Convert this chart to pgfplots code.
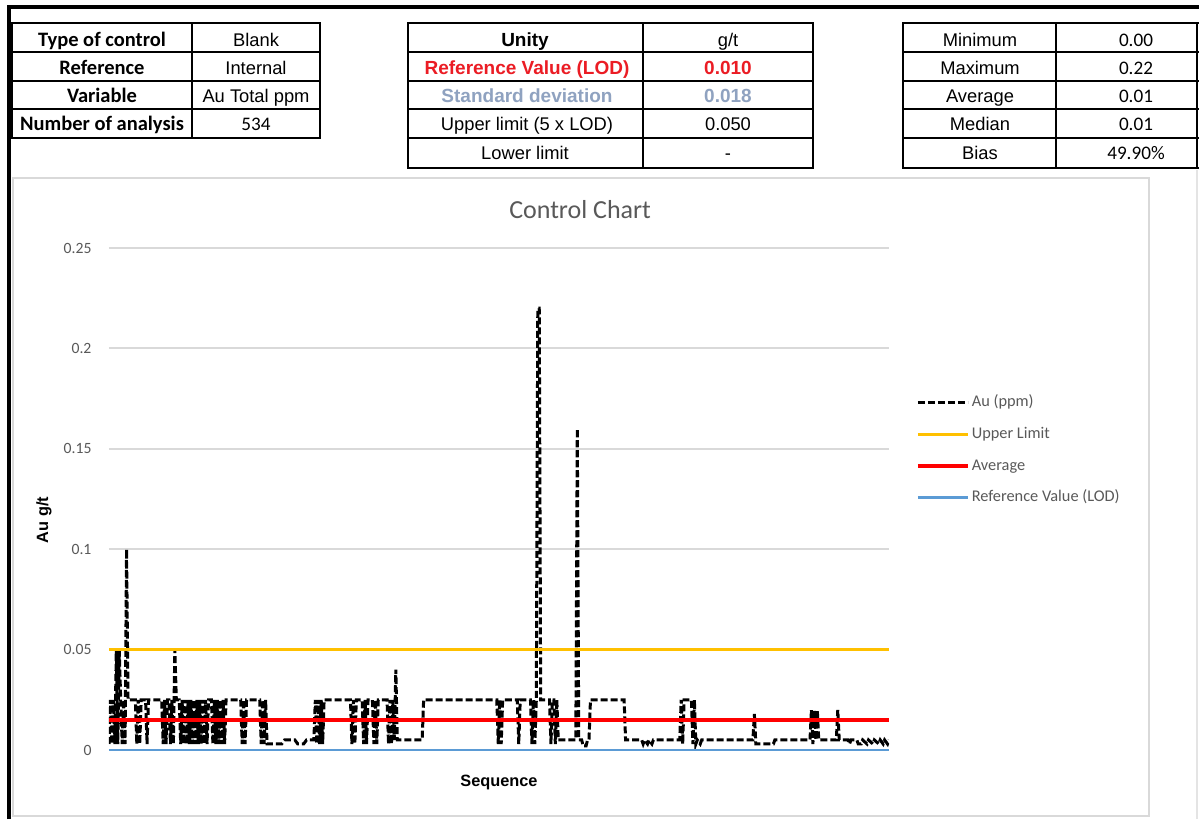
\documentclass[border=0pt]{standalone}
\usepackage{pgfplots}
\pgfplotsset{compat=1.18}
\usepackage{fontspec}
\setmainfont{Carlito}
\newfontfamily\arial{Liberation Sans}

\definecolor{xlgray}{RGB}{89,89,89}
\definecolor{gridgray}{RGB}{217,217,217}
\definecolor{xlyellow}{RGB}{255,192,0}
\definecolor{xlred}{RGB}{255,0,0}
\definecolor{xlblue}{RGB}{91,155,213}
\definecolor{lodred}{RGB}{235,28,36}
\definecolor{sdblue}{RGB}{143,162,192}

% fonts, sizes in pt (1 px of the reference = 0.6pt)
\newcommand{\fa}{\fontsize{11}{13}\selectfont\arial}
\newcommand{\fab}{\fontsize{11.4}{13}\selectfont\arial\bfseries}
\newcommand{\fcb}{\fontsize{12.3}{14}\selectfont\bfseries}
\newcommand{\fc}{\fontsize{11.5}{13}\selectfont}

\begin{document}
\begin{tikzpicture}[x=0.6pt,y=-0.6pt]
\useasboundingbox (0,0) rectangle (1199,819);
\fill[white] (0,0) rectangle (1199,819);

% sheet frame and chart area
\draw[line width=2.4pt] (9,819) -- (9,7) -- (1199,7);
\draw[gridgray, line width=1pt] (13,178) rectangle (1149,816);
\draw[gridgray!70, line width=1pt] (1197,170) -- (1197,819);

% ---- table 1
\draw[line width=1pt] (12,52) -- (320,52) (12,81) -- (320,81) (12,109) -- (320,109) (192,23) -- (192,138);
\draw[line width=1.7pt] (12,23) rectangle (320,138);
\node[anchor=base, font=\fcb] at (102,46) {Type of control};
\node[anchor=base, font=\fcb] at (102,74) {Reference};
\node[anchor=base, font=\fcb] at (102,102) {Variable};
\node[anchor=base, font=\fcb] at (102,130) {Number of analysis};
\node[anchor=base, font=\fa] at (256,46) {Blank};
\node[anchor=base, font=\fa] at (256,74) {Internal};
\node[anchor=base, font=\fa] at (256,102) {Au Total ppm};
\node[anchor=base, font=\fc] at (256,130) {534};

% ---- table 2
\draw[line width=1pt] (408,52) -- (813,52) (408,81) -- (813,81) (408,109) -- (813,109) (408,138) -- (813,138) (643,23) -- (643,168);
\draw[line width=1.7pt] (408,23) rectangle (813,168);
\node[anchor=base, font=\fab] at (525,46) {Unity};
\node[anchor=base, font=\fab, text=lodred] at (527,74) {Reference Value (LOD)};
\node[anchor=base, font=\fab, text=sdblue] at (527,102) {Standard deviation};
\node[anchor=base, font=\fa] at (527,130) {Upper limit (5 x LOD)};
\node[anchor=base, font=\fa] at (525,159) {Lower limit};
\node[anchor=base, font=\fa] at (728,46) {g/t};
\node[anchor=base, font=\fab, text=lodred] at (728,74) {0.010};
\node[anchor=base, font=\fab, text=sdblue] at (728,102) {0.018};
\node[anchor=base, font=\fa] at (728,130) {0.050};
\node[anchor=base, font=\fa] at (728,159) {-};

% ---- table 3 (runs on past the right edge)
\draw[line width=1pt] (903,52) -- (1199,52) (903,81) -- (1199,81) (903,109) -- (1199,109) (903,138) -- (1199,138) (1056,23) -- (1056,168);
\draw[line width=1.7pt] (1199,23) -- (903,23) -- (903,168) -- (1199,168);
\draw[line width=1.2pt] (1197,23) -- (1197,168);
\node[anchor=base, font=\fa] at (980,46) {Minimum};
\node[anchor=base, font=\fa] at (980,74) {Maximum};
\node[anchor=base, font=\fa] at (980,102) {Average};
\node[anchor=base, font=\fa] at (980,130) {Median};
\node[anchor=base, font=\fa] at (980,159) {Bias};
\node[anchor=base, font=\fc] at (1136,46) {0.00};
\node[anchor=base, font=\fc] at (1136,74) {0.22};
\node[anchor=base, font=\fc] at (1136,102) {0.01};
\node[anchor=base, font=\fc] at (1136,130) {0.01};
\node[anchor=base, font=\fc] at (1136,159) {49.90\%};

% ---- control chart (axis box: x 109..889 px, y 248..750 px)
\begin{axis}[
    at={(65.4pt,-450pt)}, anchor=south west,
    scale only axis,
    width=468pt, height=301.2pt,
    xmin=0, xmax=533, ymin=0, ymax=0.25,
    axis line style={draw=none},
    major tick length=0pt,
    xtick=\empty,
    ytick={0,0.05,0.1,0.15,0.2,0.25},
    yticklabels={0,0.05,0.1,0.15,0.2,0.25},
    yticklabel style={font=\fontsize{9.4}{11}\selectfont, text=xlgray, xshift=-7pt},
    ymajorgrids,
    grid style={gridgray, line width=1.1pt},
    title={Control Chart},
    title style={at={(axis description cs:0.604,1.056)}, anchor=center,
        font=\fontsize{15.6}{18}\selectfont, text=xlgray},
    xlabel={Sequence},
    xlabel style={at={(axis description cs:0.5,0)}, anchor=center, yshift=-19.5pt,
        font=\fontsize{9.8}{11}\selectfont\arial\bfseries},
    ylabel={Au g/t},
    ylabel style={at={(axis description cs:-0.0833,0.458)}, anchor=center,
        font=\fontsize{9.8}{11}\selectfont\arial\bfseries},
    legend style={at={(1,0.597)}, anchor=west, xshift=16pt,
        draw=none, fill=none, inner sep=0pt, row sep=8.6pt, column sep=0.6pt,
        font=\fontsize{9.8}{11}\selectfont, text=xlgray,
        nodes={inner sep=0.6pt, text height=7pt, text depth=2.2pt}},
    legend cell align=left,
    legend image code/.code={\draw[#1] (0pt,0pt) -- (30pt,0pt);},
]

% Au (ppm)
\addplot[black, line width=1.8pt, dash pattern=on 4.2pt off 1.8pt, sharp plot] coordinates {
(0,0.003)(1,0.025)(2,0.003)(3,0.025)(4,0.003)(5,0.05)(6,0.003)(7,0.05)(8,0.025)(9,0.003)
(10,0.025)(11,0.003)(12,0.1)(13,0.025)(18,0.025)(19,0.003)(20,0.025)(21,0.003)(22,0.025)
(25,0.025)(26,0.003)(27,0.025)(36,0.025)(37,0.003)(38,0.025)(39,0.003)(40,0.025)(41,0.025)
(42,0.003)(43,0.025)(44,0.003)(45,0.05)(46,0.025)(48,0.025)(49,0.003)(50,0.025)(51,0.003)
(52,0.025)(53,0.003)(54,0.025)(55,0.003)(56,0.025)(57,0.003)(58,0.025)(59,0.003)(60,0.025)
(61,0.003)(62,0.025)(63,0.003)(64,0.025)(65,0.003)(66,0.025)(67,0.003)(68,0.025)(70,0.025)
(71,0.003)(72,0.025)(73,0.003)(74,0.025)(75,0.003)(76,0.025)(77,0.003)(78,0.025)(79,0.003)
(80,0.025)(90,0.025)(91,0.003)(92,0.025)(93,0.003)(94,0.025)(103,0.025)(104,0.003)(105,0.025)
(106,0.003)(107,0.025)(108,0.003)(118,0.003)(120,0.005)(127,0.005)(129,0.003)(133,0.003)
(135,0.005)(140,0.005)(141,0.025)(142,0.003)(143,0.025)(144,0.003)(145,0.025)(146,0.003)
(147,0.025)(165,0.025)(166,0.003)(167,0.025)(168,0.003)(169,0.025)(173,0.025)(174,0.003)
(175,0.025)(176,0.003)(177,0.025)(180,0.025)(181,0.003)(182,0.025)(183,0.003)(184,0.025)
(190,0.025)(191,0.003)(192,0.025)(193,0.003)(194,0.025)(195,0.005)(196,0.04)(197,0.005)
(214,0.005)(215,0.025)(265,0.025)(266,0.003)(267,0.025)(268,0.003)(269,0.025)(279,0.025)
(280,0.003)(281,0.025)(288,0.025)(289,0.003)(290,0.025)(291,0.003)(292,0.025)(293,0.22)
(294,0.22)(295,0.025)(301,0.025)(302,0.003)(303,0.025)(304,0.025)(305,0.003)(306,0.025)
(307,0.005)(319,0.005)(320,0.16)(321,0.005)(323,0.005)(324,0.002)(326,0.002)(327,0.005)
(328,0.005)(329,0.025)(352,0.025)(353,0.005)(364,0.005)(365,0.003)(366,0.005)(368,0.003)
(369,0.005)(371,0.003)(372,0.005)(390,0.005)(391,0.025)(392,0.003)(393,0.025)(398,0.025)
(399,0.003)(400,0.025)(401,0.003)(402,0.005)(404,0.003)(405,0.005)(440,0.005)(441,0.018)
(442,0.003)(454,0.003)(455,0.005)(479,0.005)(480,0.02)(481,0.003)(482,0.02)(483,0.005)
(484,0.02)(485,0.005)(497,0.005)(498,0.02)(499,0.005)(505,0.005)(506,0.003)(507,0.005)
(511,0.005)(512,0.003)(514,0.003)(515,0.005)(518,0.003)(519,0.005)(522,0.003)(523,0.005)
(526,0.003)(527,0.005)(529,0.003)(530,0.005)(532,0.003)(533,0.005)
};
\addlegendentry{Au (ppm)}

\addplot[xlyellow, line width=1.7pt] coordinates {(0,0.05) (533,0.05)};
\addlegendentry{Upper Limit}

\addplot[xlred, line width=2.3pt] coordinates {(0,0.015) (533,0.015)};
\addlegendentry{Average}

\addplot[xlblue, line width=1.7pt] coordinates {(0,0) (533,0)};
\addlegendentry{Reference Value (LOD)}

\end{axis}
\end{tikzpicture}
\end{document}
